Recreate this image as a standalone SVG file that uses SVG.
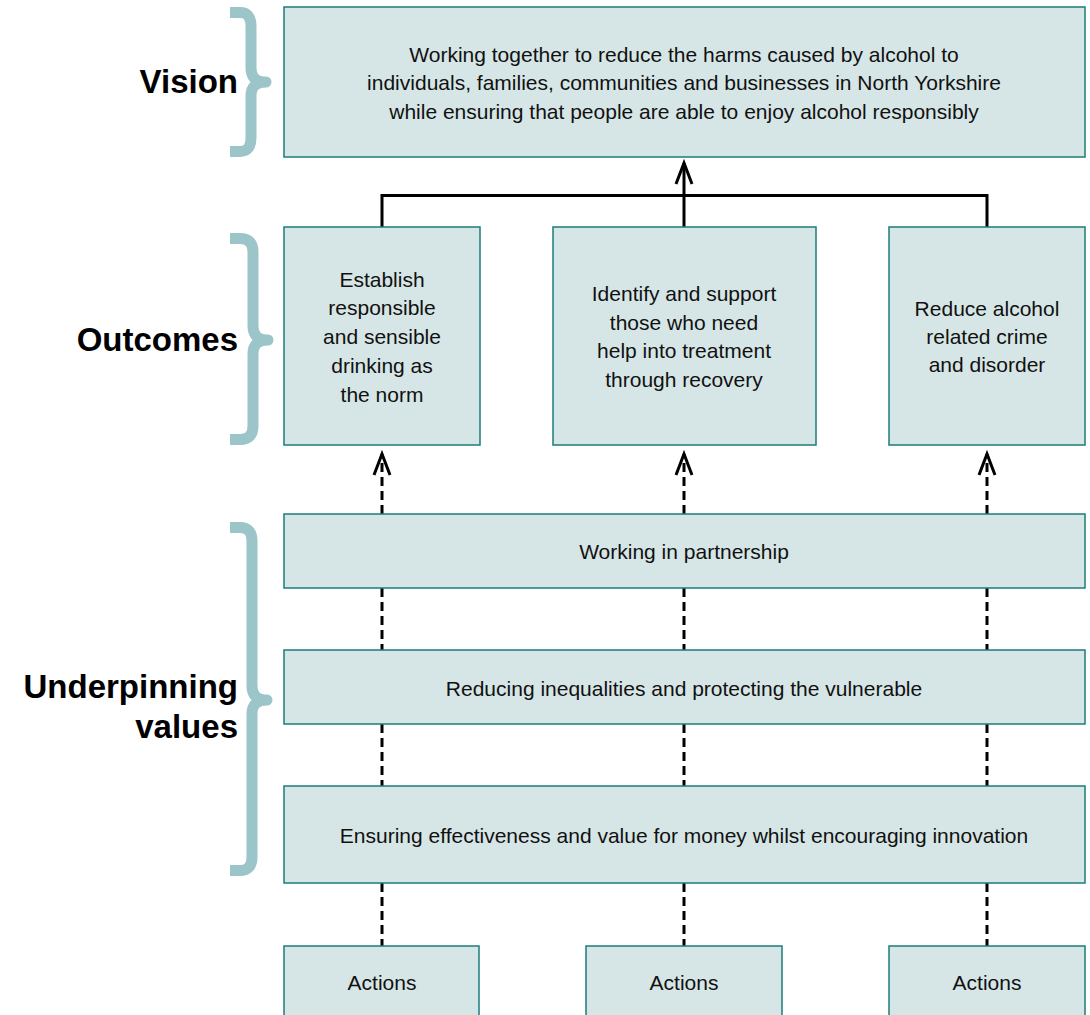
<svg xmlns="http://www.w3.org/2000/svg" width="1090" height="1015" viewBox="0 0 1090 1015">
<defs>
<style>
.box{fill:#d6e6e6;stroke:#1d7b7b;stroke-width:1.5}
.t{font-family:"Liberation Sans",Arial,sans-serif;font-size:21px;fill:#111;text-anchor:middle}
.h{font-family:"Liberation Sans",Arial,sans-serif;font-size:33px;font-weight:bold;fill:#000;text-anchor:end}
.brace{fill:none;stroke:#9cc5c9;stroke-width:11;stroke-linejoin:round}
.solid{fill:none;stroke:#000;stroke-width:3}
.dash{fill:none;stroke:#000;stroke-width:3;stroke-dasharray:9 5}
</style>
<marker id="arr" markerUnits="userSpaceOnUse" orient="auto" refX="0" refY="0" markerWidth="30" markerHeight="30" viewBox="-25 -12 30 24" overflow="visible">
<path d="M-21,-8 L0,0 L-21,8" fill="none" stroke="#000" stroke-width="3" stroke-linejoin="miter"/>
</marker>
</defs>
<rect width="1090" height="1015" fill="#fff"/>

<g id="labels">
<path class="brace" d="M230,12.5 H240 Q251,12.5 251,26 V68 Q251,82 266,82 Q251,82 251,96 V138 Q251,151.5 240,151.5 H230"/>
<text class="h" x="238" y="93">Vision</text>
<path class="brace" d="M230,238.5 H240 Q253,238.5 253,252 V326 Q253,340 268,340 Q253,340 253,354 V426 Q253,439.5 240,439.5 H230"/>
<text class="h" x="238" y="351">Outcomes</text>
<path class="brace" d="M230,527.5 H240 Q252,527.5 252,541 V686 Q252,700 267,700 Q252,700 252,714 V857 Q252,870.5 240,870.5 H230"/>
<text class="h" x="238" y="698">Underpinning</text>
<text class="h" x="238" y="738">values</text>
</g>

<g id="connectors">
<path class="solid" d="M382,227 V195.5 H987 V227"/>
<path class="solid" d="M684,227 V163" marker-end="url(#arr)"/>
<path class="dash" d="M382,514 V454" marker-end="url(#arr)"/>
<path class="dash" d="M684,514 V454" marker-end="url(#arr)"/>
<path class="dash" d="M987,514 V454" marker-end="url(#arr)"/>
<path class="dash" d="M382,588 V650 M684,588 V650 M987,588 V650"/>
<path class="dash" d="M382,724 V786 M684,724 V786 M987,724 V786"/>
<path class="dash" d="M382,883 V946 M684,883 V946 M987,883 V946"/>
</g>

<g id="vision">
<rect class="box" x="284" y="7" width="801" height="150"/>
<text class="t" x="684" y="62">Working together to reduce the harms caused by alcohol to</text>
<text class="t" x="684" y="90">individuals, families, communities and businesses in North Yorkshire</text>
<text class="t" x="684" y="119">while ensuring that people are able to enjoy alcohol responsibly</text>
</g>

<g id="outcome1">
<rect class="box" x="284" y="227" width="196" height="218"/>
<text class="t" x="382" y="287">Establish</text>
<text class="t" x="382" y="315">responsible</text>
<text class="t" x="382" y="344">and sensible</text>
<text class="t" x="382" y="373">drinking as</text>
<text class="t" x="382" y="402">the norm</text>
</g>

<g id="outcome2">
<rect class="box" x="553" y="227" width="263" height="218"/>
<text class="t" x="684" y="301">Identify and support</text>
<text class="t" x="684" y="330">those who need</text>
<text class="t" x="684" y="358">help into treatment</text>
<text class="t" x="684" y="387">through recovery</text>
</g>

<g id="outcome3">
<rect class="box" x="889" y="227" width="196" height="218"/>
<text class="t" x="987" y="316">Reduce alcohol</text>
<text class="t" x="987" y="344">related crime</text>
<text class="t" x="987" y="372">and disorder</text>
</g>

<g id="value1">
<rect class="box" x="284" y="514" width="801" height="74"/>
<text class="t" x="684" y="559">Working in partnership</text>
</g>

<g id="value2">
<rect class="box" x="284" y="650" width="801" height="74"/>
<text class="t" x="684" y="696">Reducing inequalities and protecting the vulnerable</text>
</g>

<g id="value3">
<rect class="box" x="284" y="786" width="801" height="97"/>
<text class="t" x="684" y="843">Ensuring effectiveness and value for money whilst encouraging innovation</text>
</g>

<g id="actions1">
<rect class="box" x="284" y="946" width="195" height="80"/>
<text class="t" x="382" y="990">Actions</text>
</g>
<g id="actions2">
<rect class="box" x="586" y="946" width="196" height="80"/>
<text class="t" x="684" y="990">Actions</text>
</g>
<g id="actions3">
<rect class="box" x="889" y="946" width="196" height="80"/>
<text class="t" x="987" y="990">Actions</text>
</g>
</svg>
